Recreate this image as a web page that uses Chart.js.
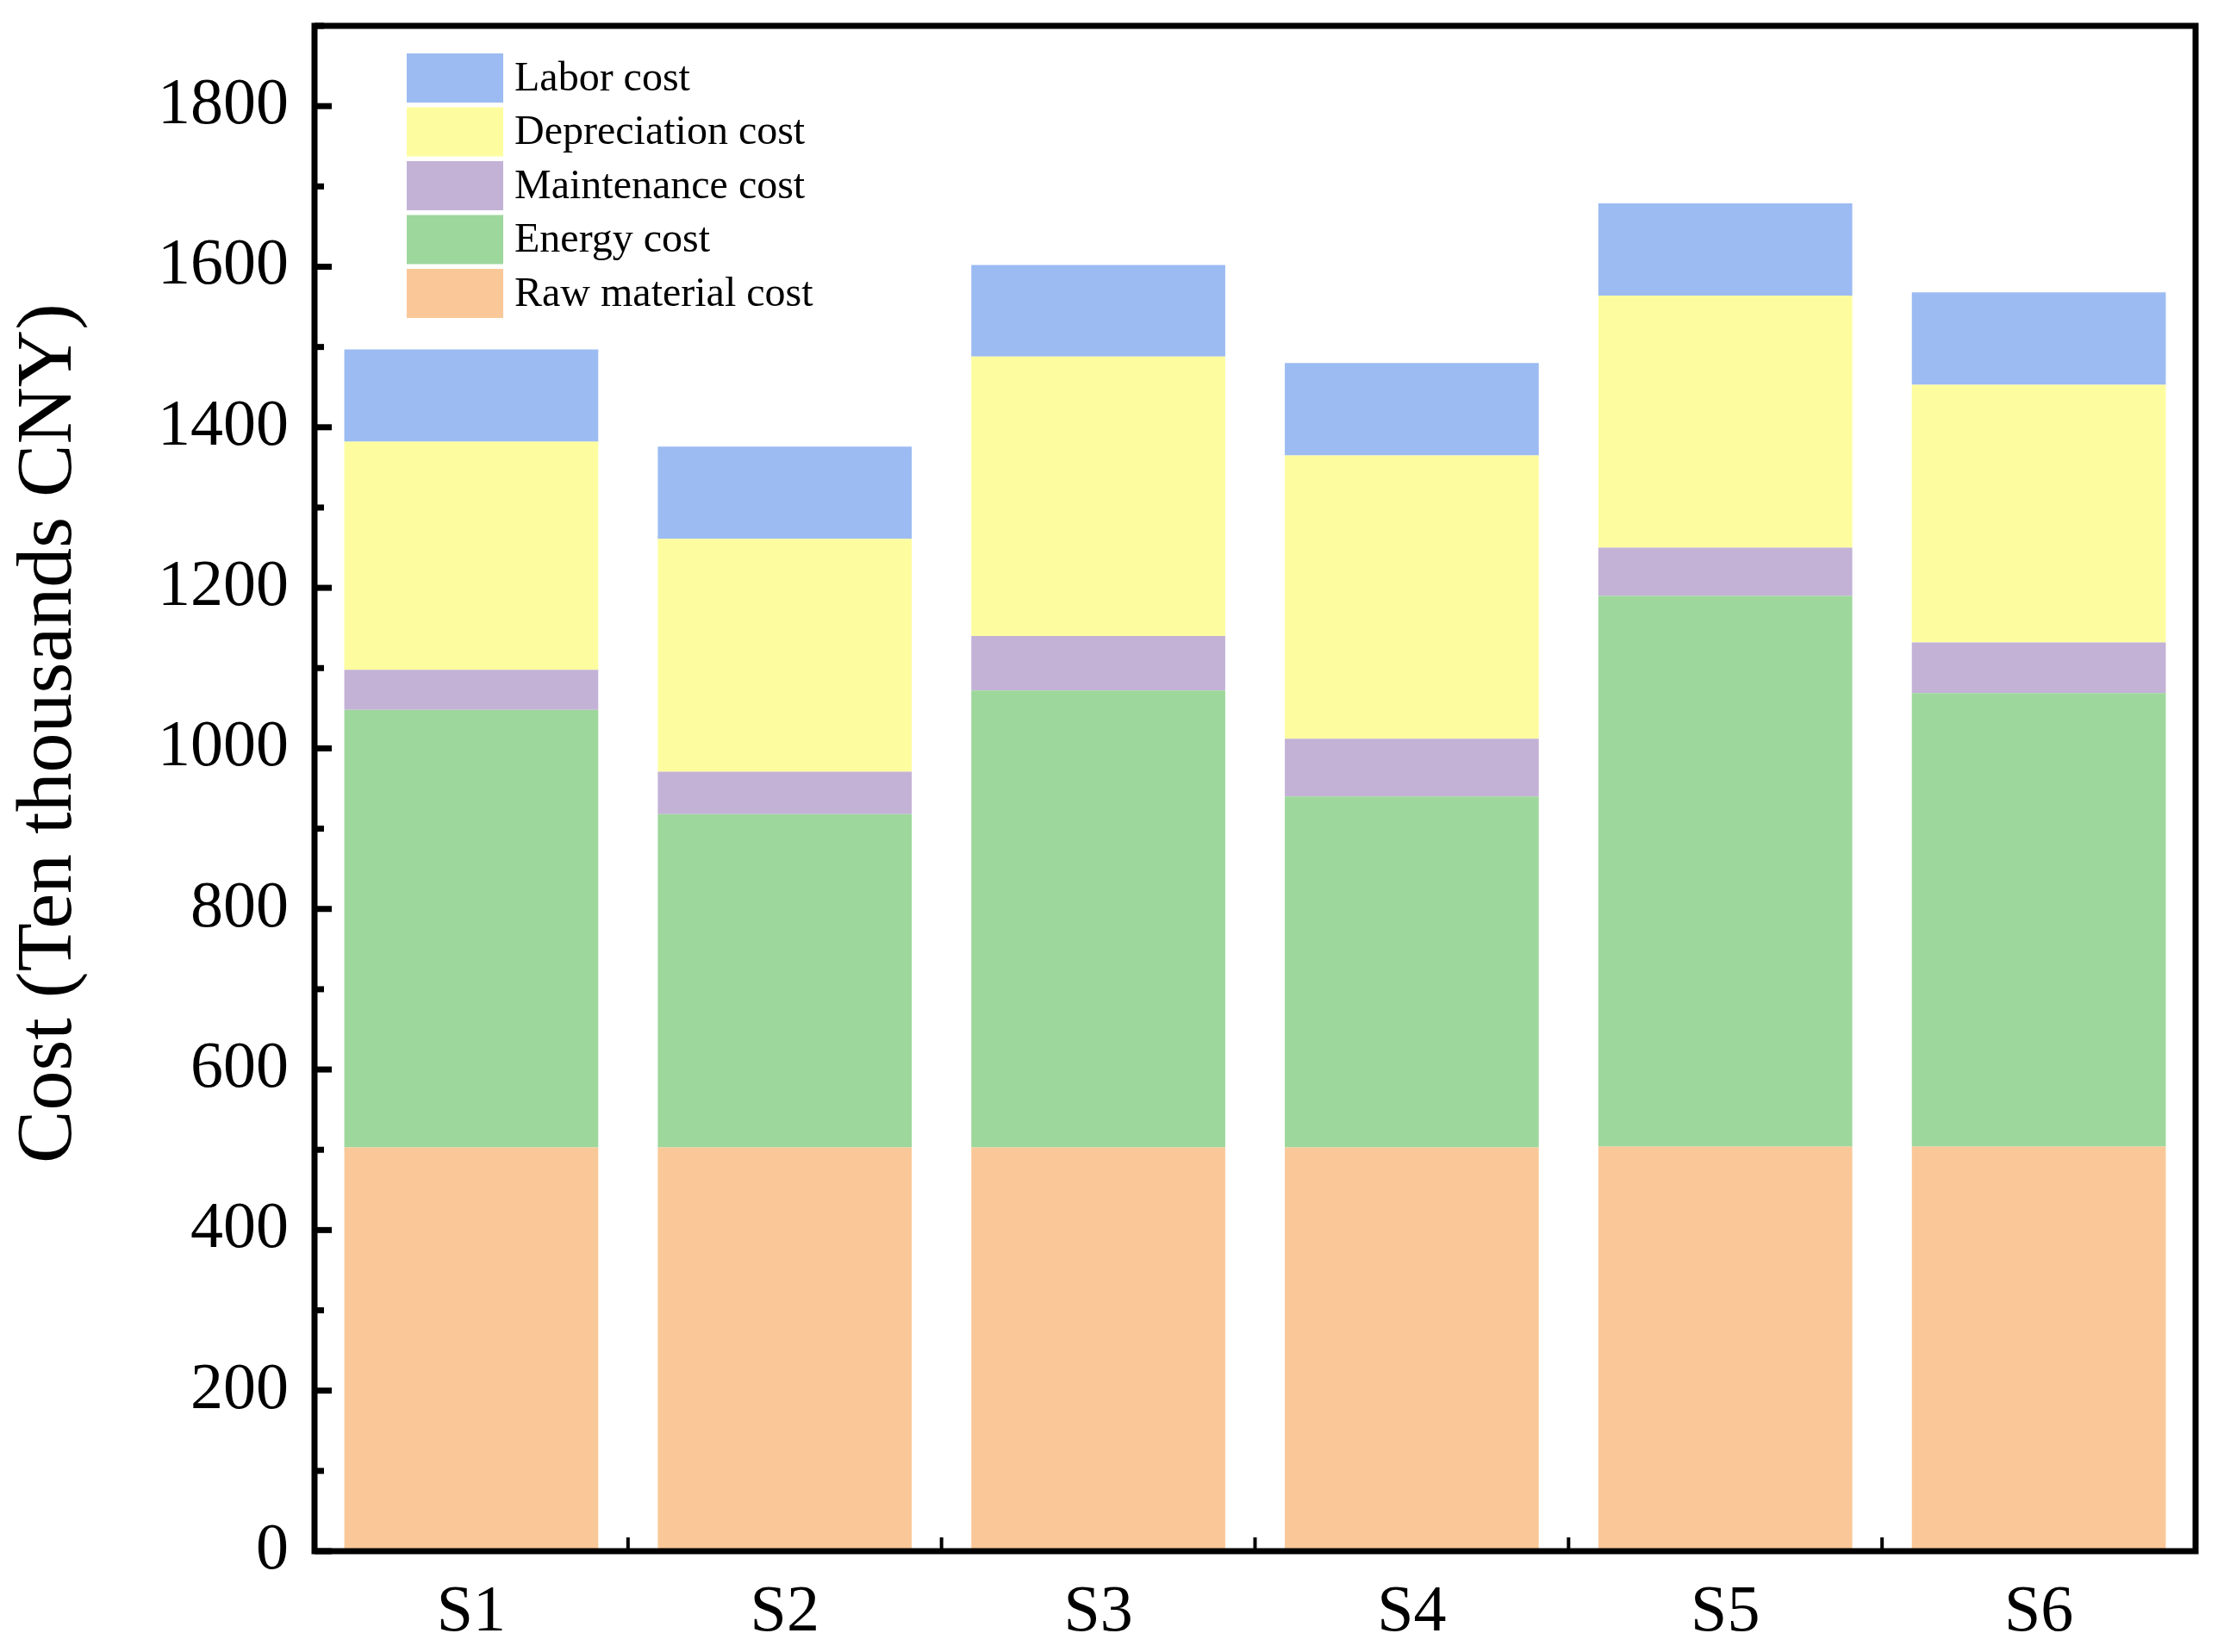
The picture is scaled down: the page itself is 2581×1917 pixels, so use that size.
<!DOCTYPE html>
<html>
<head>
<meta charset="utf-8">
<script src="https://cdn.jsdelivr.net/npm/chart.js@4/dist/chart.umd.min.js"></script>
<style>
	html, body { margin: 0; padding: 0; background: #fff; }
	canvas { display: block; }
</style>
</head>
<body>
<canvas id="cost-chart" width="2581" height="1917"></canvas>
<script>
const categories = ["S1", "S2", "S3", "S4", "S5", "S6"];
const rawMaterial = [503, 503, 503, 503, 504, 504];
const energy = [545, 415, 569, 437, 686, 565];
const maintenance = [50, 53, 68, 72, 60, 63];
const depreciation = [284, 290, 348, 353, 314, 321];
const labor = [115, 115, 114, 115, 115, 115];

const FONT = "'Liberation Serif', 'Times New Roman', serif";
const Y_TITLE = "Cost (Ten thousands CNY)";

const colors = {
	raw: "#fac898",
	energy: "#9ed79c",
	maint: "#c3b2d6",
	dep: "#fdfda0",
	labor: "#9cbbf2",
};

// frame, inward ticks, axis title and the in-plot legend
const decorations = {
	id: "decorations",
	afterDraw(chart) {
		const { ctx, chartArea: a, scales } = chart;
		const y = scales.y;
		const x = scales.x;
		ctx.save();
		ctx.strokeStyle = "#000";
		ctx.lineWidth = 7;
		ctx.strokeRect(a.left, a.top, a.right - a.left, a.bottom - a.top);

		for (let v = 0; v <= 1900; v += 100) {
			const py = y.getPixelForValue(v);
			const len = v % 200 === 0 ? 20 : 11;
			ctx.beginPath();
			ctx.moveTo(a.left, py);
			ctx.lineTo(a.left + len, py);
			ctx.stroke();
		}
		ctx.lineWidth = 4;
		for (let i = 1; i < categories.length; i++) {
			const px = (x.getPixelForValue(i - 1) + x.getPixelForValue(i)) / 2;
			ctx.beginPath();
			ctx.moveTo(px, a.bottom);
			ctx.lineTo(px, a.bottom - 16);
			ctx.stroke();
		}

		// y title sits a bit above the middle, as in the original
		ctx.fillStyle = "#000";
		ctx.font = `92px ${FONT}`;
		ctx.textAlign = "center";
		ctx.textBaseline = "middle";
		ctx.translate(58, 851);
		ctx.rotate(-Math.PI / 2);
		ctx.fillText(Y_TITLE, 0, 0);
		ctx.setTransform(1, 0, 0, 1, 0, 0);

		// legend, top entry is the top of the stack
		const sets = chart.data.datasets.slice().reverse();
		ctx.font = `48px ${FONT}`;
		ctx.textAlign = "left";
		sets.forEach((ds, i) => {
			const top = 62 + i * 62.5;
			ctx.fillStyle = ds.backgroundColor;
			ctx.fillRect(472, top, 112, 57);
			ctx.fillStyle = "#000";
			ctx.fillText(ds.label, 597, top + 30);
		});
		ctx.restore();
	},
};

new Chart(document.getElementById("cost-chart"), {
	type: "bar",
	data: {
		labels: categories,
		datasets: [
			{ label: "Raw material cost", data: rawMaterial, backgroundColor: colors.raw },
			{ label: "Energy cost", data: energy, backgroundColor: colors.energy },
			{ label: "Maintenance cost", data: maintenance, backgroundColor: colors.maint },
			{ label: "Depreciation cost", data: depreciation, backgroundColor: colors.dep },
			{ label: "Labor cost", data: labor, backgroundColor: colors.labor },
		],
	},
	options: {
		responsive: false,
		devicePixelRatio: 1,
		animation: false,
		layout: { padding: { top: 30, right: 33, left: 0, bottom: 0 } },
		datasets: {
			bar: { categoryPercentage: 1, barPercentage: 0.81, borderWidth: 0 },
		},
		plugins: {
			legend: { display: false },
			tooltip: { enabled: false },
		},
		scales: {
			x: {
				stacked: true,
				grid: { display: false, drawTicks: false },
				border: { display: false },
				ticks: { font: { family: FONT, size: 76 }, color: "#000", padding: 26 },
				afterFit: (s) => {
					s.height = 117;
					s.paddingLeft = 0;
					s.paddingRight = 0;
				},
			},
			y: {
				stacked: true,
				min: 0,
				max: 1900,
				grid: { display: false, drawTicks: false },
				border: { display: false },
				ticks: {
					stepSize: 200,
					font: { family: FONT, size: 76 },
					color: "#000",
					padding: 30,
					callback: (v) => (v % 200 === 0 ? v : null),
				},
				afterFit: (s) => {
					s.width = 365;
					s.paddingTop = 0;
					s.paddingBottom = 0;
				},
			},
		},
	},
	plugins: [decorations],
});
</script>
</body>
</html>
